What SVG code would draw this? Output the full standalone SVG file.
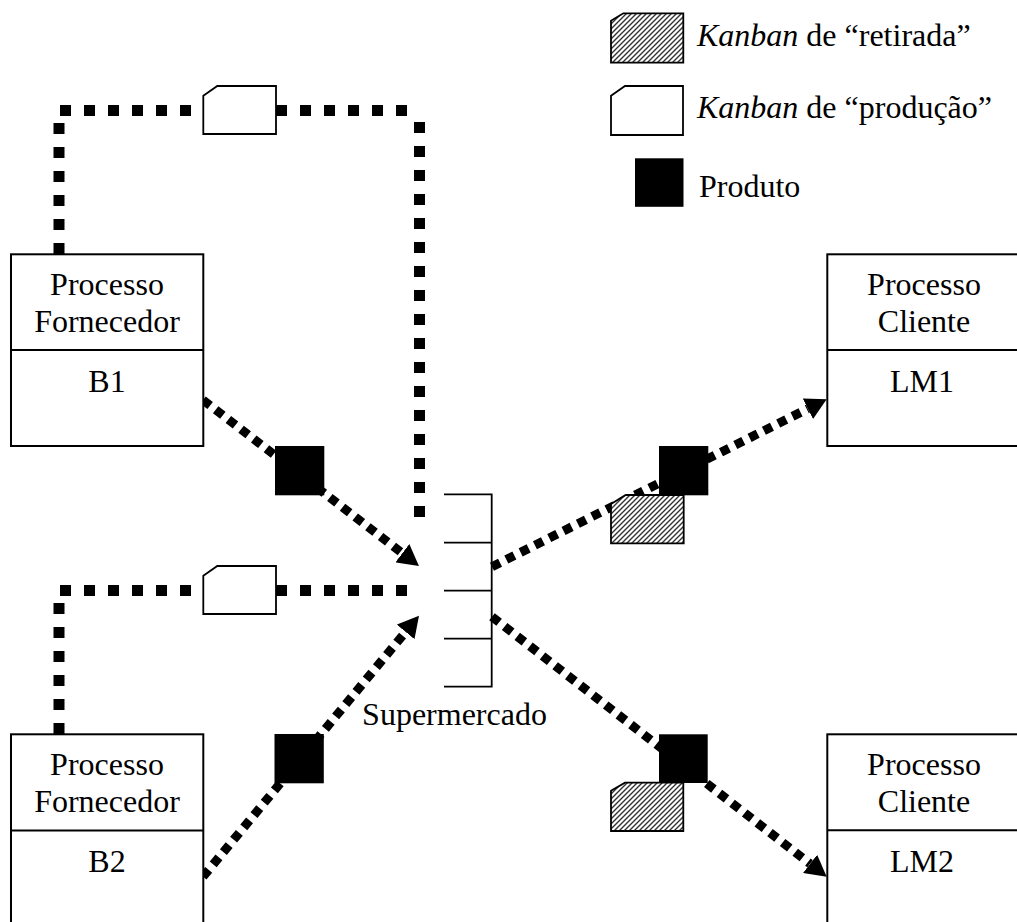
<svg xmlns="http://www.w3.org/2000/svg" width="1017" height="922" viewBox="0 0 1017 922">
  <style>
    .txt { font-family: "Liberation Serif", "Times New Roman", serif; font-size: 32px; fill: #000; }
    .mid { text-anchor: middle; }
    .box { fill: #fff; stroke: #000; stroke-width: 2; }
    .div { stroke: #000; stroke-width: 2; }
    .loop { fill: none; stroke: #000; stroke-width: 11; stroke-dasharray: 11 13; }
    .flow { fill: none; stroke: #000; stroke-width: 9; stroke-dasharray: 9 7; }
    .prod { fill: #000; }
    .kprod { fill: #fff; stroke: #000; stroke-width: 1.8; }
    .kret { fill: url(#hatch); stroke: #000; stroke-width: 1.8; }
    .shelf { fill: none; stroke: #000; stroke-width: 1.8; }
  </style>
  <defs>
    <pattern id="hatch" patternUnits="userSpaceOnUse" width="5" height="5">
      <rect width="5" height="5" fill="#fff"/>
      <path d="M-1,1 L1,-1 M0,5 L5,0 M4,6 L6,4" stroke="#333" stroke-width="1.4"/>
    </pattern>
    <marker id="arrow" markerUnits="userSpaceOnUse" markerWidth="21" markerHeight="23" refX="0" refY="11.5" orient="auto">
      <path d="M0,0 L21,11.5 L0,23 Z" fill="#000"/>
    </marker>
  </defs>

  <!-- legend -->
  <g id="legend">
    <path class="kret" d="M611,20.7 L623.3,13.3 L683.3,13.3 L683.3,62.7 L611,62.7 Z"/>
    <text class="txt" x="697" y="46"><tspan font-style="italic">Kanban</tspan> de “retirada”</text>
    <path class="kprod" d="M611,95.7 L625,86 L683,86 L683,135 L611,135 Z"/>
    <text class="txt" x="697" y="118"><tspan font-style="italic">Kanban</tspan> de “produção”</text>
    <rect class="prod" x="635" y="158.3" width="48.5" height="48.5"/>
    <text class="txt" x="699" y="197">Produto</text>
  </g>

  <!-- connectors -->
  <g id="connectors">
    <!-- production kanban loop B1 -->
    <line class="loop" x1="59" y1="254" x2="59" y2="122"/>
    <line class="loop" x1="60" y1="110.5" x2="408" y2="110.5"/>
    <line class="loop" x1="419.5" y1="122" x2="419.5" y2="518"/>
    <!-- production kanban loop B2 -->
    <line class="loop" x1="59" y1="734" x2="59" y2="602"/>
    <line class="loop" x1="60" y1="590.5" x2="408" y2="590.5"/>
    <!-- material flows -->
    <line class="flow" x1="203" y1="400" x2="402.3" y2="553.2" marker-end="url(#arrow)"/>
    <line class="flow" x1="203" y1="876.7" x2="405.6" y2="631.9" marker-end="url(#arrow)"/>
    <line class="flow" x1="492" y1="566.7" x2="807.9" y2="408.7" marker-end="url(#arrow)"/>
    <line class="flow" x1="492" y1="616.7" x2="810.1" y2="863.8" marker-end="url(#arrow)"/>
  </g>

  <!-- production kanban cards -->
  <g id="kanban-prod-b1">
    <path class="kprod" d="M203.3,95.7 L217.3,86 L276,86 L276,134 L203.3,134 Z"/>
  </g>
  <g id="kanban-prod-b2">
    <path class="kprod" d="M203.3,575.7 L217.3,566 L276,566 L276,614 L203.3,614 Z"/>
  </g>

  <!-- products in transit -->
  <g id="product-b1"><rect class="prod" x="275" y="446" width="49.3" height="49.3"/></g>
  <g id="product-b2"><rect class="prod" x="274.5" y="734" width="49.3" height="49.3"/></g>
  <g id="product-lm1">
    <rect class="prod" x="659" y="446" width="49.3" height="49.3"/>
    <path class="kret" d="M611,504 L625.7,495 L683.7,495 L683.7,543.3 L611,543.3 Z"/>
  </g>
  <g id="product-lm2">
    <rect class="prod" x="659" y="734.3" width="48.7" height="48.7"/>
    <path class="kret" d="M611,790.7 L625,782.7 L683.3,782.7 L683.3,831 L611,831 Z"/>
  </g>

  <!-- supermarket -->
  <g id="supermercado">
    <path class="shelf" d="M444,494.3 H491.7 V686.7 H444 M444,542.7 H491.7 M444,590.7 H491.7 M444,638.7 H491.7"/>
    <text class="txt mid" x="454.5" y="725">Supermercado</text>
  </g>

  <!-- supplier processes -->
  <g id="processo-b1">
    <rect class="box" x="11" y="254.3" width="192.3" height="191.7"/>
    <line class="div" x1="11" y1="350" x2="203.3" y2="350"/>
    <text class="txt mid" x="107" y="295">Processo</text>
    <text class="txt mid" x="107" y="331.7">Fornecedor</text>
    <text class="txt mid" x="107" y="391.7">B1</text>
  </g>
  <g id="processo-b2">
    <rect class="box" x="11" y="734.3" width="192.3" height="200"/>
    <line class="div" x1="11" y1="830.5" x2="203.3" y2="830.5"/>
    <text class="txt mid" x="107" y="775">Processo</text>
    <text class="txt mid" x="107" y="811.7">Fornecedor</text>
    <text class="txt mid" x="107" y="871.7">B2</text>
  </g>

  <!-- customer processes -->
  <g id="processo-lm1">
    <rect class="box" x="827.3" y="254.3" width="193" height="191.7"/>
    <line class="div" x1="827.3" y1="350" x2="1020" y2="350"/>
    <text class="txt mid" x="924" y="295">Processo</text>
    <text class="txt mid" x="924" y="331.7">Cliente</text>
    <text class="txt mid" x="922" y="391.7">LM1</text>
  </g>
  <g id="processo-lm2">
    <rect class="box" x="827.3" y="734.3" width="193" height="200"/>
    <line class="div" x1="827.3" y1="830.3" x2="1020" y2="830.3"/>
    <text class="txt mid" x="924" y="775">Processo</text>
    <text class="txt mid" x="924" y="811.7">Cliente</text>
    <text class="txt mid" x="922" y="871.7">LM2</text>
  </g>
</svg>
